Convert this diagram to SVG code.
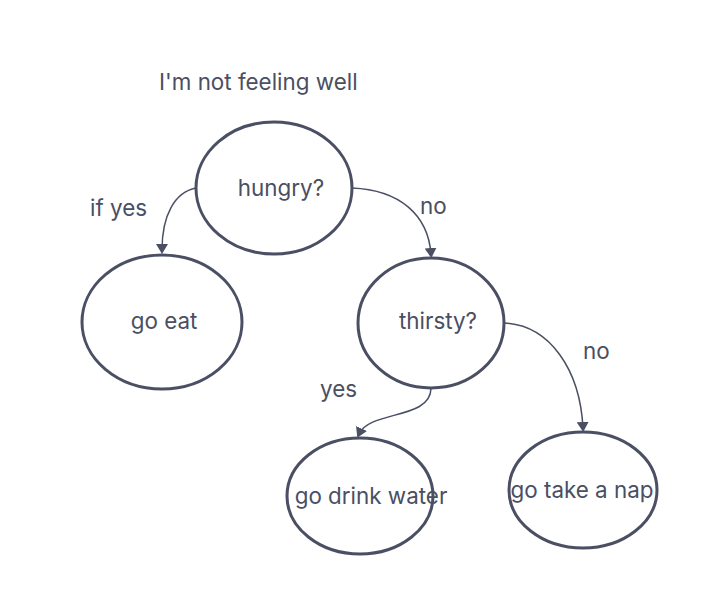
<svg xmlns="http://www.w3.org/2000/svg" width="718" height="614" viewBox="0 0 718 614">
<style>
.n{fill:#fff;stroke:#4a4f63;stroke-width:3}
.t{font-family:Inter,"Noto Sans",sans-serif;font-size:22.4px;fill:#4a4f63}
.c{fill:none;stroke:#4a4f63;stroke-width:1.5}
</style>
<defs>
<marker id="b" viewBox="-6 -6 12 12" refX="0" refY="0" markerWidth="12" markerHeight="12" markerUnits="userSpaceOnUse" orient="auto">
<path d="M-6,-6 L4,0 L-6,6 Z" fill="#4a4f63"/>
</marker>
</defs>
<rect width="718" height="614" fill="#fff"/>
<text class="t" x="159" y="90">I'm not feeling well</text>
<g id="connectors">
<path class="c" d="M196,188 C175,192 162,215 162,250" marker-end="url(#b)"/>
<path class="c" d="M352,188 C400,190 428,215 431,254" marker-end="url(#b)"/>
<path class="c" d="M431,388 C431,420 370,410 359,434" marker-end="url(#b)"/>
<path class="c" d="M504,323 C550,325 580,370 583,428" marker-end="url(#b)"/>
<text class="t" x="90" y="216">if yes</text>
<text class="t" x="420" y="214">no</text>
<text class="t" x="320" y="397">yes</text>
<text class="t" x="583" y="359">no</text>
</g>
<g id="hungry"><ellipse class="n" cx="274" cy="188" rx="78" ry="66"/><text class="t" x="281" y="196" text-anchor="middle">hungry?</text></g>
<g id="go-eat"><ellipse class="n" cx="162" cy="322" rx="80" ry="67"/><text class="t" x="164" y="329" text-anchor="middle">go eat</text></g>
<g id="thirsty"><ellipse class="n" cx="431" cy="323" rx="73" ry="65"/><text class="t" x="438" y="329" text-anchor="middle">thirsty?</text></g>
<g id="go-drink-water"><ellipse class="n" cx="360" cy="496" rx="73" ry="58"/><text class="t" x="371" y="504" text-anchor="middle">go drink water</text></g>
<g id="go-take-a-nap"><ellipse class="n" cx="583" cy="490" rx="74" ry="58"/><text class="t" x="582" y="498" text-anchor="middle">go take a nap</text></g>
</svg>
